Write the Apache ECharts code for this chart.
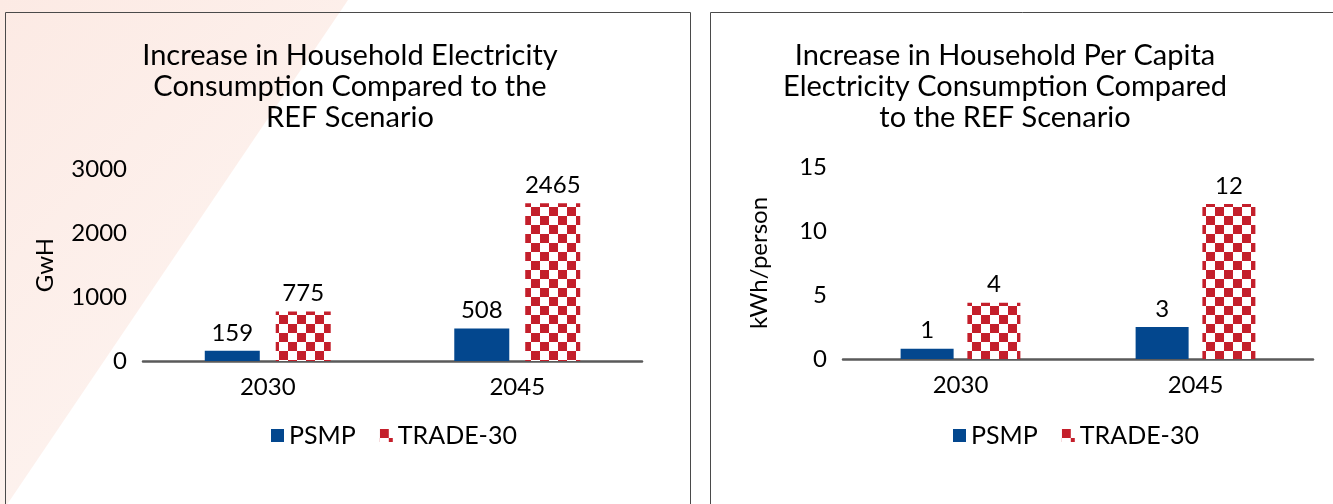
<!DOCTYPE html>
<html>
<head>
<meta charset="utf-8">
<script src="https://cdn.jsdelivr.net/npm/echarts@6/dist/echarts.min.js"></script>
<style>
html,body{margin:0;padding:0;background:#fff;}
#c{width:1333px;height:504px;}
</style>
</head>
<body>
<div id="c"></div>
<script>
const categories = ['2030', '2045'];
const psmpTotal = [159, 508];
const tradeTotal = [775, 2465];
const psmpPerCapita = [0.8, 2.5];
const tradePerCapita = [4.4, 12.1];
const leftTicks = {min: 0, max: 3000, interval: 1000};
const rightTicks = {min: 0, max: 15, interval: 5};

const FONT = 'Lato';
const BLUE = '#03478e';
const RED = '#c41f2b';

function makePattern() {
  const s = 9;
  const c = document.createElement('canvas');
  c.width = s * 2; c.height = s * 2;
  const ctx = c.getContext('2d');
  ctx.fillStyle = '#ffffff';
  ctx.fillRect(0, 0, s * 2, s * 2);
  ctx.fillStyle = RED;
  ctx.fillRect(0, 0, s, s);
  ctx.fillRect(s, s, s, s);
  return c;
}
const pattern = {image: makePattern(), repeat: 'repeat'};

const chart = echarts.init(document.getElementById('c'), null, {renderer: 'canvas'});

const txt = {color: '#000', fontFamily: FONT, fontSize: 24};

function yAxis(t, name, gap) {
  return {
    type: 'value', min: t.min, max: t.max, interval: t.interval,
    axisLine: {show: false}, axisTick: {show: false}, splitLine: {show: false},
    axisLabel: Object.assign({margin: 16, formatter: v => String(v)}, txt),
    name: name, nameLocation: 'middle', nameGap: gap, nameRotate: 90,
    nameTextStyle: Object.assign({}, txt)
  };
}
function xAxis(gi) {
  return {
    type: 'category', data: categories, gridIndex: gi,
    axisLine: {show: true, lineStyle: {color: '#5a5a5a', width: 2.5}},
    axisTick: {show: false},
    axisLabel: Object.assign({margin: 14}, txt)
  };
}

const titleStyle = {color: '#000', fontFamily: FONT, fontSize: 29, fontWeight: 'normal', lineHeight: 31};
const legendText = {color: '#000', fontFamily: FONT, fontSize: 25};

const option = {
  animation: false,
  backgroundColor: '#ffffff',
  graphic: [
    {
      type: 'polygon', z: -10, silent: true,
      shape: {points: [[0, 0], [348, 0], [0, 515]]},
      style: {
        fill: new echarts.graphic.LinearGradient(0, 0, 1, 0.68, [
          {offset: 0, color: '#fceae4'},
          {offset: 0.8, color: '#fdf2ee'},
          {offset: 1, color: '#fff8f6'}
        ])
      }
    },
    {
      type: 'rect', z: -5, silent: true,
      shape: {x: 5.5, y: 12.5, width: 685, height: 520},
      style: {fill: 'transparent', stroke: '#4a4a4a', lineWidth: 1}
    },
    {
      type: 'rect', z: -5, silent: true,
      shape: {x: 710.5, y: 12.5, width: 640, height: 520},
      style: {fill: '#ffffff', stroke: '#4a4a4a', lineWidth: 1}
    }
  ],
  title: [
    {
      text: 'Increase in Household Electricity\nConsumption Compared to the\nREF Scenario',
      left: 345, top: 35, textAlign: 'center', textStyle: titleStyle
    },
    {
      text: 'Increase in Household Per Capita\nElectricity Consumption Compared\nto the REF Scenario',
      left: 1000, top: 35, textAlign: 'center', textStyle: titleStyle
    }
  ],
  legend: [
    {
      data: ['PSMP', 'TRADE-30'], left: 266, top: 418,
      itemWidth: 13, itemHeight: 13, itemGap: 24, icon: 'rect',
      textStyle: legendText
    },
    {
      data: ['PSMP', 'TRADE-30'], left: 948, top: 418,
      itemWidth: 13, itemHeight: 13, itemGap: 24, icon: 'rect',
      textStyle: legendText
    }
  ],
  grid: [
    {left: 143, right: 1333 - 642, top: 169, bottom: 504 - 361},
    {left: 843, right: 1333 - 1313, top: 167, bottom: 504 - 359}
  ],
  xAxis: [xAxis(0), xAxis(1)],
  yAxis: [
    Object.assign(yAxis(leftTicks, 'GwH', 86), {gridIndex: 0}),
    Object.assign(yAxis(rightTicks, 'kWh/person', 72), {gridIndex: 1})
  ],
  series: [
    {
      name: 'PSMP', type: 'bar', xAxisIndex: 0, yAxisIndex: 0, data: psmpTotal,
      barWidth: 55, barGap: '29%', itemStyle: {color: BLUE},
      label: Object.assign({show: true, position: 'top', distance: 6}, txt)
    },
    {
      name: 'TRADE-30', type: 'bar', xAxisIndex: 0, yAxisIndex: 0, data: tradeTotal,
      barWidth: 55, barGap: '29%', itemStyle: {color: pattern},
      label: Object.assign({show: true, position: 'top', distance: 6}, txt)
    },
    {
      name: 'PSMP', type: 'bar', xAxisIndex: 1, yAxisIndex: 1, data: psmpPerCapita,
      barWidth: 53, barGap: '26%', itemStyle: {color: BLUE},
      label: Object.assign({show: true, position: 'top', distance: 6,
        formatter: p => String(Math.round(p.value))}, txt)
    },
    {
      name: 'TRADE-30', type: 'bar', xAxisIndex: 1, yAxisIndex: 1, data: tradePerCapita,
      barWidth: 53, barGap: '26%', itemStyle: {color: pattern},
      label: Object.assign({show: true, position: 'top', distance: 6,
        formatter: p => String(Math.round(p.value))}, txt)
    }
  ]
};
chart.setOption(option);
</script>
</body>
</html>
